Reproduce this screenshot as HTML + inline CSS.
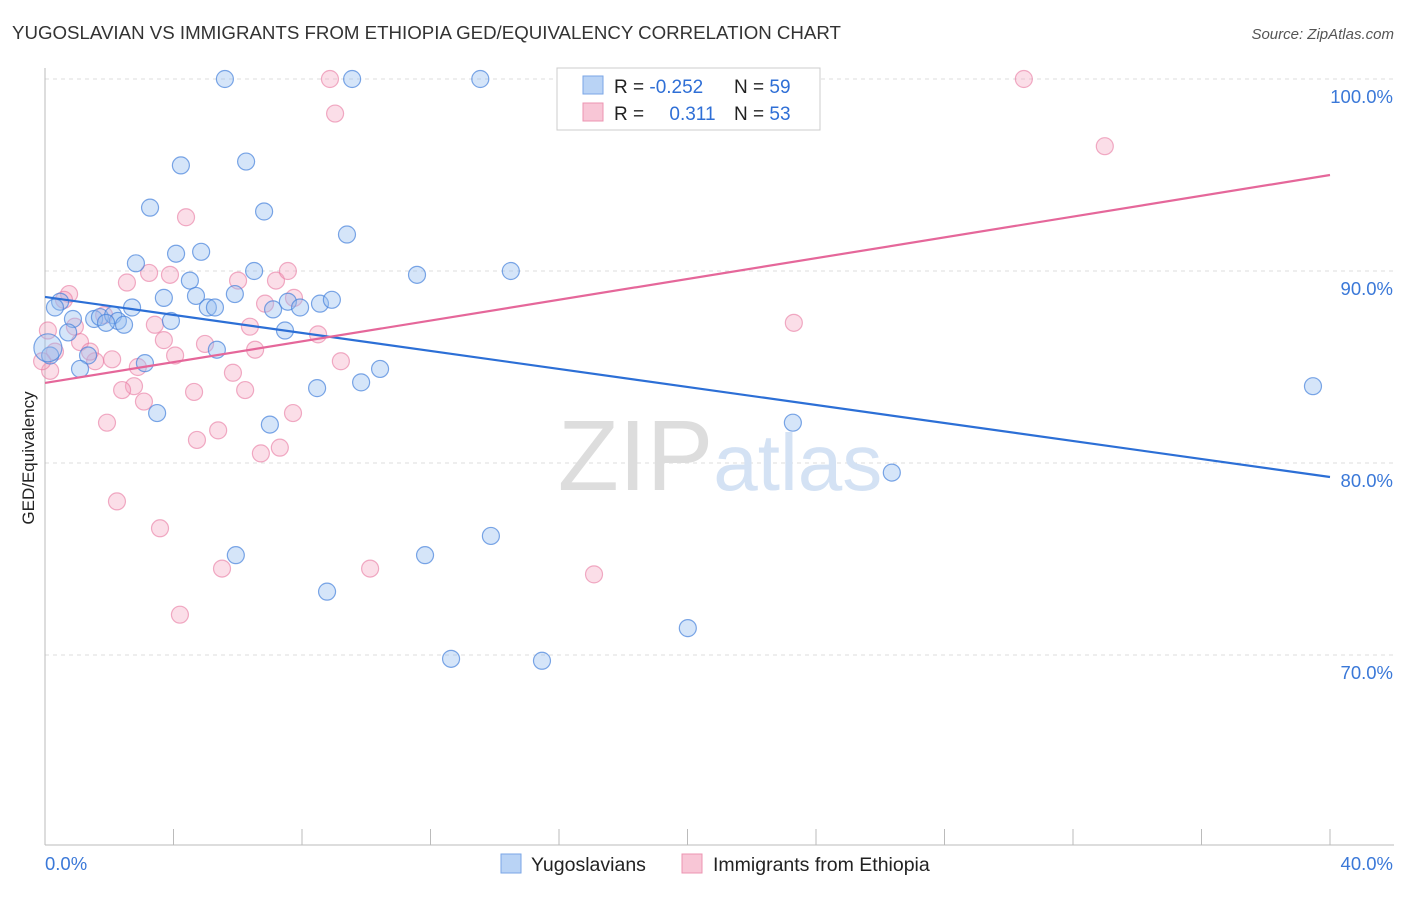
<!DOCTYPE html>
<html><head><meta charset="utf-8"><style>
body{margin:0;background:#fff;font-family:"Liberation Sans",sans-serif;}
svg text{font-family:"Liberation Sans",sans-serif;}
</style></head><body>
<svg id="chart" width="1406" height="892" xmlns="http://www.w3.org/2000/svg">
<text x="12" y="39" font-size="18.7" fill="#333">YUGOSLAVIAN VS IMMIGRANTS FROM ETHIOPIA GED/EQUIVALENCY CORRELATION CHART</text>
<text x="1394" y="39" font-size="15" fill="#555" text-anchor="end" font-style="italic">Source: ZipAtlas.com</text>
<text x="34" y="458" font-size="17" fill="#222" text-anchor="middle" transform="rotate(-90 34 458)">GED/Equivalency</text>
<g id="grid"></g>
<text x="720" y="490" font-size="100" fill="#ddd" text-anchor="middle" font-family="Liberation Serif"><tspan>ZIP</tspan><tspan fill="#d4e2f4" font-family="Liberation Sans" font-size="80">atlas</tspan></text>
<g id="points"></g>
<g id="lines"></g>
<g>
<rect x="557" y="68" width="263" height="62" fill="#fff" stroke="#ccc"/>
<rect x="583" y="76" width="20" height="18" fill="#b9d3f5" stroke="#7aa6e6"/>
<rect x="583" y="103" width="20" height="18" fill="#f8c6d6" stroke="#ec94b2"/>
<text x="614" y="93" font-size="19" fill="#222">R = <tspan fill="#2f6fd6">-0.252</tspan></text>
<text x="734" y="93" font-size="19" fill="#222">N = <tspan fill="#2f6fd6">59</tspan></text>
<text x="614" y="120" font-size="19" fill="#222">R = <tspan fill="#2f6fd6" dx="20">0.311</tspan></text>
<text x="734" y="120" font-size="19" fill="#222">N = <tspan fill="#2f6fd6">53</tspan></text>
</g>
<g>
<rect x="501" y="854" width="20" height="19" fill="#b9d3f5" stroke="#7aa6e6"/>
<text x="531" y="871" font-size="19.5" fill="#222">Yugoslavians</text>
<rect x="682" y="854" width="20" height="19" fill="#f8c6d6" stroke="#ec94b2"/>
<text x="713" y="871" font-size="19.5" fill="#222">Immigrants from Ethiopia</text>
</g>
</svg>
<script>
const xTickVals=[0,4,8,12,16,20,24,28,32,36,40];
const yTickVals=[70,80,90,100];
const yTickLabels=["70.0%","80.0%","90.0%","100.0%"];
const xEndLabels=["0.0%","40.0%"];
const blueX=[5.6,9.56,13.55,4.23,6.26,3.27,6.82,9.4,4.08,4.86,2.83,6.51,11.58,14.5,4.51,3.7,4.7,5.91,0.47,0.31,2.71,5.07,5.29,7.1,7.56,7.94,8.56,8.93,0.87,1.53,1.71,2.12,2.27,2.46,1.9,3.92,0.72,7.47,5.35,1.34,3.11,1.09,0.16,10.43,9.84,8.47,3.49,7.0,23.28,39.47,26.36,5.94,11.83,13.88,8.78,20.01,12.64,15.47,0.09];
const blueY=[100,100,100,95.5,95.7,93.3,93.1,91.9,90.9,91.0,90.4,90.0,89.8,90.0,89.5,88.6,88.7,88.8,88.4,88.1,88.1,88.1,88.1,88.0,88.4,88.1,88.3,88.5,87.5,87.5,87.6,87.7,87.4,87.2,87.3,87.4,86.8,86.9,85.9,85.6,85.2,84.9,85.6,84.9,84.2,83.9,82.6,82.0,82.1,84.0,79.5,75.2,75.2,76.2,73.3,71.4,69.8,69.7,86.0];
const pinkX=[8.87,30.47,9.03,32.99,4.39,3.24,3.89,6.01,7.19,7.56,2.55,0.75,0.59,6.85,7.75,3.42,6.38,8.5,1.84,0.93,1.09,3.7,4.98,6.54,4.05,2.09,1.56,1.4,2.89,9.21,5.85,0.16,2.77,2.4,4.64,6.23,3.08,1.93,7.72,5.39,4.73,7.31,6.72,2.24,3.58,5.51,10.12,17.09,4.2,23.31,0.31,0.09,-0.09];
const pinkY=[100,100,98.2,96.5,92.8,89.9,89.8,89.5,89.5,90.0,89.4,88.8,88.5,88.3,88.6,87.2,87.1,86.7,87.7,87.1,86.3,86.4,86.2,85.9,85.6,85.4,85.3,85.8,85.0,85.3,84.7,84.8,84.0,83.8,83.7,83.8,83.2,82.1,82.6,81.7,81.2,80.8,80.5,78.0,76.6,74.5,74.5,74.2,72.1,87.3,85.8,86.9,85.3];
const blueLine=[88.65,79.27];
const pinkLine=[84.17,95.0];
const X0=45,X1=1330,Y100=79,PX10=192;
function sx(v){return X0+(v/40)*(X1-X0);}
function sy(v){return Y100+(100-v)*PX10/10;}
const NS="http://www.w3.org/2000/svg";
function mk(t,a,p){const e=document.createElementNS(NS,t);for(const k in a)e.setAttribute(k,a[k]);p.appendChild(e);return e;}
const grid=document.getElementById('grid');
yTickVals.forEach((v,i)=>{
 const l=mk('line',{x1:45,x2:1394,y1:sy(v),y2:sy(v),stroke:'#ddd','stroke-dasharray':'4 4'},grid);
 
 
 const t=mk('text',{x:1393,y:sy(v)+24,'font-size':18.5,fill:'#3a78d8','text-anchor':'end'},grid);
 t.textContent=yTickLabels[i];
 
 
});
const ax=mk('line',{x1:45,x2:45,y1:68,y2:845,stroke:'#bbb'},grid);


const bx=mk('line',{x1:45,x2:1394,y1:845,y2:845,stroke:'#bbb'},grid);


xTickVals.forEach(v=>{
 const t=mk('line',{x1:sx(v),x2:sx(v),y1:829,y2:845,stroke:'#bbb'},grid);
 
 
});
[[0,'start'],[40,'end']].forEach((p,i)=>{
 const t=mk('text',{x:i?1393:45,y:870,'font-size':18.5,fill:'#3a78d8','text-anchor':p[1]},grid);
 t.textContent=xEndLabels[i];
 
 
});
const pts=document.getElementById('points');
pinkX.forEach((x,i)=>{
 const c=mk('circle',{cx:sx(x),cy:sy(pinkY[i]),r:8.5,fill:'rgba(244,160,190,0.35)',stroke:'rgba(232,120,160,0.6)','stroke-width':1.2},pts);
 
 
});
blueX.forEach((x,i)=>{
 const c=mk('circle',{cx:sx(x),cy:sy(blueY[i]),r:i==blueX.length-1?14:8.5,fill:'rgba(150,190,240,0.4)',stroke:'rgba(70,130,220,0.7)','stroke-width':1.2},pts);
 
 
});
const lg=document.getElementById('lines');
const bl=mk('line',{x1:sx(0),y1:sy(blueLine[0]),x2:sx(40),y2:sy(blueLine[1]),stroke:'#2c6fd6','stroke-width':2.2},lg);


const pl=mk('line',{x1:sx(0),y1:sy(pinkLine[0]),x2:sx(40),y2:sy(pinkLine[1]),stroke:'#e5679a','stroke-width':2.2},lg);


</script>
</body></html>
